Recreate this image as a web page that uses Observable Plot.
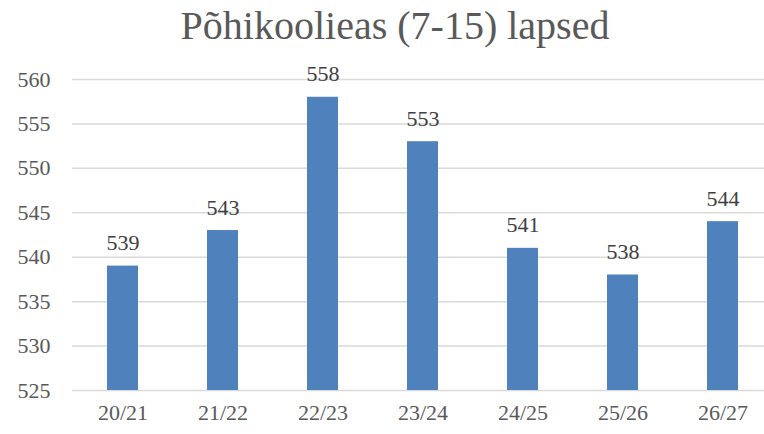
<!DOCTYPE html>
<html><head><meta charset="utf-8">
<script src="https://cdn.jsdelivr.net/npm/d3@7"></script>
<script src="https://cdn.jsdelivr.net/npm/@observablehq/plot@0.6"></script>
<style>
body{margin:0;background:#fff;overflow:hidden}
#title{height:55px;width:764px;font-family:"Liberation Serif",serif;font-size:40px;color:#595959;line-height:52px;box-sizing:border-box;padding-left:26px;text-align:center}
svg{display:block}
svg text{font-family:"Liberation Serif",serif}
</style>
</head><body>
<div id="title">Põhikoolieas (7-15) lapsed</div>
<div id="chart"></div>
<script>
const years = ["20/21","21/22","22/23","23/24","24/25","25/26","26/27"];
const values = [539,543,558,553,541,538,544];
const yTicks = [525,530,535,540,545,550,555,560];
const data = years.map((y,i)=>({year:y,value:values[i]}));
const font = "'Liberation Serif', serif";
const chart = Plot.plot({
  width:764, height:379,
  marginLeft:72, marginRight:0, marginTop:24, marginBottom:44,
  style:{fontFamily:font, fontSize:"22px", color:"#595959", background:"#fff"},
  x:{domain:years, range:[72,772], paddingInner:0.69, paddingOuter:0.345, label:null, tickSize:0, tickPadding:14},
  y:{domain:[525,560], ticks:yTicks, label:null, tickSize:0, tickPadding:23},
  marks:[
    Plot.ruleY(yTicks,{stroke:"#d9d9d9", strokeWidth:1.5}),
    Plot.barY(data,{x:"year", y1:525, y2:"value", fill:"#4F81BD"}),
    Plot.text(data,{x:"year", y:"value", text:d=>String(d.value), dy:-23, fill:"#404040", fontSize:22, fontFamily:font}),
    Plot.axisX({tickSize:0, tickPadding:14, fontSize:22, fontFamily:font, fill:"#595959"}),
    Plot.axisY({ticks:yTicks, tickSize:0, tickPadding:22, fontSize:22, fontFamily:font, fill:"#595959"})
  ]
});
document.getElementById("chart").appendChild(chart);
</script>
</body></html>
